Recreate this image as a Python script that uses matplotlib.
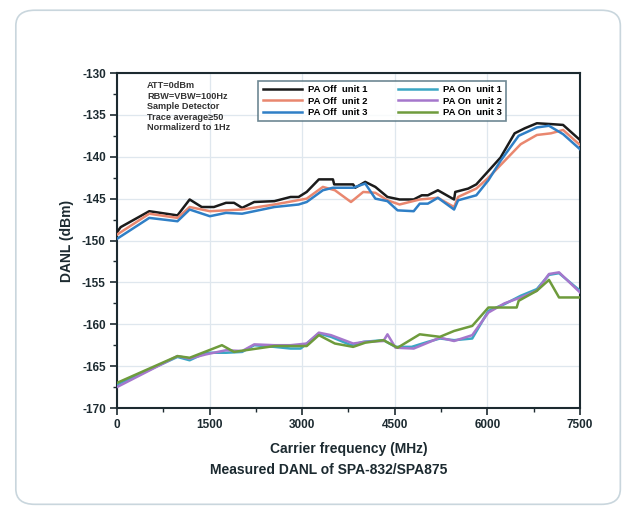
import matplotlib
matplotlib.use("Agg")
import matplotlib.pyplot as plt
import matplotlib.patches as mpatches
from matplotlib.ticker import MultipleLocator

plt.rcParams["font.family"] = ["Liberation Sans", "DejaVu Sans"]
plt.rcParams["font.weight"] = "bold"
plt.rcParams["axes.unicode_minus"] = False

# ---- data (MHz, dBm) ----
off1_f = [0, 60, 523, 980, 1177, 1373, 1570, 1766, 1896, 2027, 2223, 2550, 2812, 2942,
          3073, 3270, 3498, 3518, 3825, 3858, 4021, 4185, 4381, 4577, 4806, 4937, 5035,
          5198, 5460, 5479, 5689, 5820, 5918, 6212, 6441, 6605, 6801, 7030, 7226, 7500]
off1_v = [-149.0, -148.4, -146.5, -147.0, -145.1, -146.0, -146.0, -145.5, -145.5, -146.1,
          -145.4, -145.3, -144.8, -144.8, -144.2, -142.7, -142.7, -143.3, -143.3, -143.7,
          -143.0, -143.6, -144.8, -145.1, -145.1, -144.6, -144.6, -144.0, -145.1, -144.2,
          -143.8, -143.3, -142.5, -140.1, -137.2, -136.6, -136.0, -136.1, -136.2, -138.0]

off2_f = [0, 523, 980, 1177, 1504, 2027, 2550, 3073, 3335, 3530, 3790, 3989, 4185, 4381,
          4577, 4904, 5198, 5460, 5525, 5820, 6016, 6212, 6539, 6801, 7030, 7226, 7500]
off2_v = [-149.3, -146.8, -147.3, -146.0, -146.5, -146.3, -145.7, -145.0, -143.6, -144.0,
          -145.4, -144.2, -144.3, -145.2, -145.7, -145.1, -144.9, -146.0, -144.8, -143.8,
          -142.5, -141.0, -138.5, -137.4, -137.2, -136.8, -138.6]

off3_f = [0, 523, 980, 1177, 1504, 1766, 2027, 2550, 2942, 3073, 3335, 3498, 3825, 4021,
          4185, 4381, 4545, 4806, 4904, 5035, 5198, 5460, 5525, 5820, 6016, 6212, 6506,
          6801, 6997, 7226, 7500]
off3_v = [-149.8, -147.3, -147.7, -146.3, -147.1, -146.7, -146.8, -146.0, -145.7, -145.4,
          -144.0, -143.7, -143.7, -143.2, -145.0, -145.3, -146.4, -146.5, -145.6, -145.6,
          -144.9, -146.3, -145.2, -144.6, -142.8, -140.5, -137.5, -136.5, -136.3, -137.3,
          -139.1]

on1_f = [0, 980, 1177, 1439, 1766, 2027, 2223, 2550, 2812, 2975, 3270, 3466, 3793, 3989,
         4316, 4512, 4773, 5035, 5231, 5460, 5754, 6016, 6277, 6539, 6801, 6997, 7160, 7500]
on1_v = [-167.2, -163.9, -164.3, -163.4, -163.4, -163.3, -162.5, -162.7, -162.9, -162.9,
         -161.1, -161.5, -162.5, -162.1, -161.9, -162.7, -162.7, -162.1, -161.7, -161.9,
         -161.7, -158.4, -157.6, -156.6, -155.8, -154.1, -153.9, -156.0]

on2_f = [0, 980, 1177, 1439, 1766, 2027, 2223, 2550, 2812, 3073, 3270, 3466, 3825, 4021,
         4316, 4381, 4512, 4806, 5035, 5231, 5460, 5754, 6016, 6277, 6539, 6801, 6997,
         7160, 7500]
on2_v = [-167.5, -163.8, -164.1, -163.6, -163.1, -163.2, -162.4, -162.5, -162.5, -162.3,
         -161.0, -161.3, -162.3, -162.1, -162.0, -161.2, -162.8, -162.9, -162.2, -161.6,
         -162.0, -161.3, -158.6, -157.5, -156.8, -156.0, -154.0, -153.8, -156.2]

on3_f = [0, 980, 1177, 1700, 1896, 2550, 3073, 3270, 3530, 3825, 4021, 4316, 4545, 4904,
         5231, 5460, 5754, 6016, 6212, 6474, 6506, 6801, 6997, 7160, 7500]
on3_v = [-167.0, -163.8, -164.0, -162.5, -163.3, -162.6, -162.6, -161.3, -162.3, -162.7,
         -162.2, -161.9, -162.8, -161.2, -161.5, -160.8, -160.2, -158.0, -158.0, -158.0,
         -157.2, -156.0, -154.7, -156.8, -156.8]

series = [
    ("PA Off  unit 1", off1_f, off1_v, "#1b1b1b"),
    ("PA Off  unit 2", off2_f, off2_v, "#e9876f"),
    ("PA Off  unit 3", off3_f, off3_v, "#2f7fc6"),
    ("PA On  unit 1", on1_f, on1_v, "#3aa6c4"),
    ("PA On  unit 2", on2_f, on2_v, "#a577cc"),
    ("PA On  unit 3", on3_f, on3_v, "#6e9b3c"),
]

x_ticks = [0, 1500, 3000, 4500, 6000, 7500]
y_ticks = [-130, -135, -140, -145, -150, -155, -160, -165, -170]

notes = ["ATT=0dBm", "RBW=VBW=100Hz", "Sample Detector",
         "Trace average\u226550", "Normalizerd to 1Hz"]

fig = plt.figure(figsize=(6.33, 5.12), dpi=100)
fig.patch.set_facecolor("white")

# rounded card outline round the chart (outline only, so it never hides the axes)
card = mpatches.FancyBboxPatch(
    (0.025, 0.015), 0.955, 0.965, transform=fig.transFigure,
    boxstyle="round,pad=0,rounding_size=0.03",
    linewidth=1.2, edgecolor="#c9d6dd", facecolor="none", zorder=-1,
)
fig.patches.append(card)

ax = fig.add_axes([0.1848, 0.2031, 0.7315, 0.6543])
ax.set_facecolor("none")

for label, f, v, color in series:
    ax.plot(f, v, color=color, linewidth=1.8, label=label, zorder=3)

ax.set_xlim(0, 7500)
ax.set_ylim(-170, -130)
ax.set_xticks(x_ticks)
ax.set_yticks(y_ticks)
ax.xaxis.set_minor_locator(MultipleLocator(750))
ax.yaxis.set_minor_locator(MultipleLocator(2.5))
ax.tick_params(which="major", direction="out", length=5, width=1.2,
               labelsize=8.5, colors="#1c2a30", pad=3)
ax.tick_params(which="minor", direction="out", length=3, width=1.0, colors="#1c2a30")
for lbl in ax.get_xticklabels() + ax.get_yticklabels():
    lbl.set_fontweight("bold")
ax.grid(True, which="major", color="#dfe7ee", linewidth=0.9, zorder=0)
for sp in ax.spines.values():
    sp.set_linewidth(1.5)
    sp.set_color("#1c2a30")

ax.set_xlabel("Carrier frequency (MHz)", fontsize=10, fontweight="bold",
              color="#1c2a30", labelpad=8)
ax.set_ylabel("DANL (dBm)", fontsize=10, fontweight="bold", color="#1c2a30", labelpad=6)
fig.text(0.52, 0.082, "Measured DANL of SPA-832/SPA875", ha="center", va="center",
         fontsize=10, fontweight="bold", color="#1c2a30")

ax.text(0.065, 0.975, "\n".join(notes), transform=ax.transAxes, ha="left", va="top",
        fontsize=6.6, fontweight="bold", color="#333333", linespacing=1.2)

leg = ax.legend(ncol=2, loc="upper left", bbox_to_anchor=(0.295, 0.99),
                frameon=True, fancybox=False, handlelength=4.2, handletextpad=0.6,
                columnspacing=3.2, labelspacing=0.25, borderpad=0.45,
                prop={"weight": "bold", "size": 6.8})
leg.get_frame().set_edgecolor("#4a6a78")
leg.get_frame().set_linewidth(1.2)

fig.savefig("out.png", dpi=100)
